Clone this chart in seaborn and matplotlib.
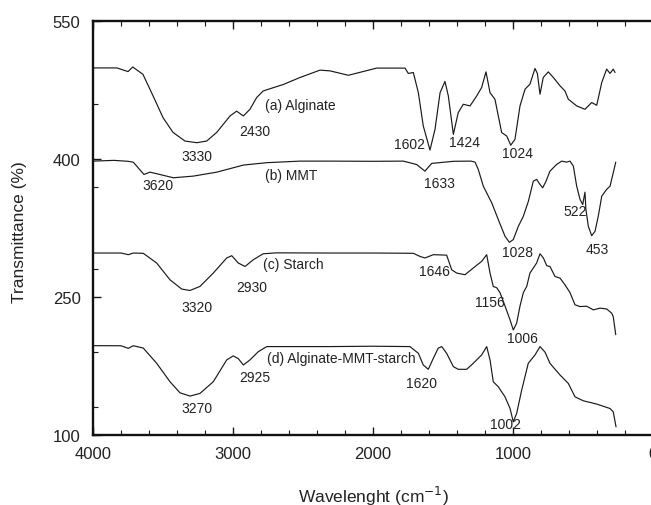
import numpy as np
import pandas as pd
import seaborn as sns
import matplotlib
matplotlib.use("Agg")
import matplotlib.pyplot as plt
from matplotlib.ticker import FixedLocator, MultipleLocator

# ---------------- data ----------------
alg_wn = [4000, 3829, 3750, 3716, 3643, 3571, 3500, 3429, 3343, 3259, 3188, 3116, 3021, 2974,
          2926, 2879, 2831, 2784, 2641, 2521, 2379, 2307, 2176, 1974, 1771, 1748, 1712, 1676,
          1641, 1593, 1557, 1521, 1486, 1462, 1426, 1391, 1355, 1307, 1259, 1224, 1193, 1164,
          1129, 1081, 1045, 1016, 986, 950, 914, 879, 843, 826, 807, 784, 748, 712, 664, 629,
          605, 545, 486, 438, 402, 366, 331, 307, 284, 271]
alg_t = [499, 499, 495, 500, 492, 468.6, 445, 429, 419.5, 417.7, 419.5, 429, 446.8, 452,
         446.8, 454, 466.8, 474, 481, 488.6, 496.6, 495.8, 491, 498.8, 498.8, 493, 494, 472,
         436, 409.7, 432.3, 472, 484.3, 468.6, 426.8, 450.5, 459.5, 457.7, 468.6, 477.7, 494.7, 472,
         465, 428.7, 425, 415, 421.4, 457.7, 475.9, 481.3, 498.4, 493, 470.4, 488.6, 494.7, 488.6, 479.5, 474,
         465, 457.7, 454, 461.4, 458.4, 483.2, 497.7, 493, 497.7, 494]

mmt_wn = [4000, 3850, 3750, 3712, 3636, 3593, 3545, 3426, 3284, 3116, 2926, 2759, 2521, 2307,
          2000, 1784, 1688, 1629, 1581, 1426, 1300, 1271, 1248, 1212, 1152, 1105, 1057, 1026,
          998, 962, 926, 890, 855, 831, 807, 788, 764, 736, 688, 652, 617, 593, 569, 545, 521,
          502, 486, 479, 462, 438, 414, 391, 366, 331, 307, 284, 266]
mmt_t = [397.7, 398.5, 397.5, 396.5, 383.2, 385.7, 384, 379.6, 381.4, 385.7, 393.4, 396, 397.7, 397.7,
         397.5, 397.7, 394, 386.8, 395.2, 397.5, 397.7, 396.6, 388.6, 370.4, 352.4, 334.1, 316, 309.4,
         312.4, 326.8, 337.8, 354.1, 375.9, 377.8, 372.3, 368.7, 375.9, 386.8, 394.1, 397.7, 396.6, 397.7, 392.3, 370.4, 356,
         350.5, 363.9, 345, 326.8, 316.7, 321.4, 337.8, 359.6, 367, 370.4, 385, 396.6]

sta_wn = [4000, 3800, 3748, 3712, 3641, 3545, 3450, 3366, 3307, 3236, 3141, 3045, 3009, 2962,
          2914, 2855, 2784, 2688, 2307, 2000, 1712, 1664, 1629, 1569, 1474, 1438, 1402, 1343,
          1284, 1224, 1188, 1164, 1141, 1116, 1093, 1057, 1021, 998, 974, 950, 926, 902, 879,
          855, 831, 807, 783, 759, 736, 700, 664, 629, 593, 557, 521, 474, 426, 379, 331, 295,
          284, 266]
sta_t = [297.8, 297.8, 296, 297.8, 297.5, 286.9, 268.7, 258.6, 257.1, 261.5, 276, 292.4, 294.9, 286.9,
         283.2, 290.5, 297, 298, 297.8, 297.8, 297.5, 294.1, 292.4, 296, 295.5, 279.6, 276, 274.2,
         281.5, 288.7, 296, 276, 261.5, 260, 254.8, 240.2, 225.1, 214.2, 221.5, 240.2, 254.8, 261.5, 276,
         281.5, 287, 297, 292.4, 284, 283.2, 272.3, 270.5, 263.3, 254.8, 241.5, 239.6, 240, 236, 237.9, 237, 232.4,
         228.7, 209]

com_wn = [4000, 3800, 3748, 3712, 3641, 3545, 3450, 3379, 3307, 3236, 3141, 3045, 2998, 2962,
          2926, 2879, 2819, 2759, 2307, 2000, 1736, 1676, 1641, 1605, 1569, 1534, 1509, 1474,
          1426, 1391, 1331, 1284, 1224, 1188, 1164, 1141, 1105, 1057, 1021, 998, 974, 938, 891,
          843, 807, 771, 736, 664, 605, 557, 498, 402, 307, 284, 264]
com_t = [197.1, 197, 194.2, 197, 194.5, 177.9, 157.9, 145.9, 142.3, 145.2, 157.9, 181.6, 186, 183,
         176.1, 181.6, 190.6, 196.1, 196.1, 196.5, 196.1, 188.8, 176.1, 171.4, 183.4, 194.4, 196.1, 188.8,
         174.3, 171.4, 171.4, 177.9, 187, 196.1, 181.6, 157.9, 152.4, 141.5, 128.8, 114.3, 123.4, 148.8, 177.9,
         187, 196.1, 190, 177.9, 165.2, 156.1, 141.5, 137.2, 133.6, 128.8, 125.2, 108.8]

series_names = ["(a) Alginate", "(b) MMT", "(c) Starch", "(d) Alginate-MMT-starch"]
series_label_pos = [(2771, 458.4), (2771, 382.1), (2786, 286.2), (2757, 183.7)]

peak_labels = ["3330", "2430", "1602", "1424", "1024",
               "3620", "1633", "1028", "522", "453",
               "3320", "2930", "1646", "1156", "1006",
               "3270", "2925", "1620", "1002"]
peak_x = [3257, 2843, 1736, 1350, 968,
          3539, 1529, 968, 557, 400,
          3257, 2864, 1564, 1164, 936,
          3257, 2843, 1657, 1057]
peak_y = [402.8, 430.1, 415.9, 418.1, 406.1,
          371.2, 373.4, 299.3, 344, 302.5,
          239.3, 261.1, 278.6, 244.8, 205.5,
          129.2, 163, 156.4, 111.8]

x_ticks = [4000, 3000, 2000, 1000, 0]
y_ticks = [100, 250, 400, 550]
y_minor = [130, 190, 280, 370, 460]

# ---------------- build frame ----------------
frames = []
for name, wn, t in zip(series_names, [alg_wn, mmt_wn, sta_wn, com_wn],
                       [alg_t, mmt_t, sta_t, com_t]):
    frames.append(pd.DataFrame({"wn": wn, "T": t, "sample": name}))
df = pd.concat(frames, ignore_index=True)

sns.set_theme(style="ticks")
plt.rcParams["font.family"] = ["Liberation Sans", "DejaVu Sans"]

fig = plt.figure(figsize=(6.51, 5.06), dpi=100)
ax = fig.add_axes([93 / 651, (506 - 436) / 506, (653 - 93) / 651, (436 - 22) / 506])

for name in series_names:
    sub = df[df["sample"] == name]
    sns.lineplot(data=sub, x="wn", y="T", ax=ax, color="#1a1a1a", linewidth=0.85,
                 estimator=None, sort=False, legend=False)

ax.set_xlim(4000, 0)
ax.set_ylim(100, 550)
ax.set_xticks(x_ticks)
ax.set_yticks(y_ticks)
ax.xaxis.set_minor_locator(MultipleLocator(200))
ax.yaxis.set_minor_locator(FixedLocator(y_minor))
ax.tick_params(axis="both", which="both", direction="in", top=True, right=False,
               colors="#1a1a1a", labelcolor="#222222")
ax.tick_params(axis="both", which="major", length=6, width=1.0, labelsize=12)
ax.tick_params(axis="both", which="minor", length=3.5, width=0.8)
ax.tick_params(axis="x", which="major", pad=8)
ax.tick_params(axis="y", which="major", pad=9)

for side in ["left", "bottom", "top"]:
    ax.spines[side].set_linewidth(1.7)
    ax.spines[side].set_color("#111111")
ax.spines["right"].set_visible(False)

ax.set_xlabel("Wavelenght (cm$^{-1}$)", fontsize=12.5, color="#222222")
ax.set_ylabel("Transmittance (%)", fontsize=12.5, color="#222222")
ax.xaxis.label.set_va("center")
ax.yaxis.label.set_va("center")
ax.xaxis.set_label_coords((373 - 93) / (653 - 93), -(496 - 436) / (436 - 22))
ax.yaxis.set_label_coords(-(93 - 20) / (653 - 93), (436 - 232) / (436 - 22))

for name, (px, py) in zip(series_names, series_label_pos):
    ax.text(px, py, name, fontsize=10, ha="left", va="center", color="#222222")
for lab, px, py in zip(peak_labels, peak_x, peak_y):
    ax.text(px, py, lab, fontsize=10, ha="center", va="center", color="#222222")

fig.savefig("out.png", dpi=100)
